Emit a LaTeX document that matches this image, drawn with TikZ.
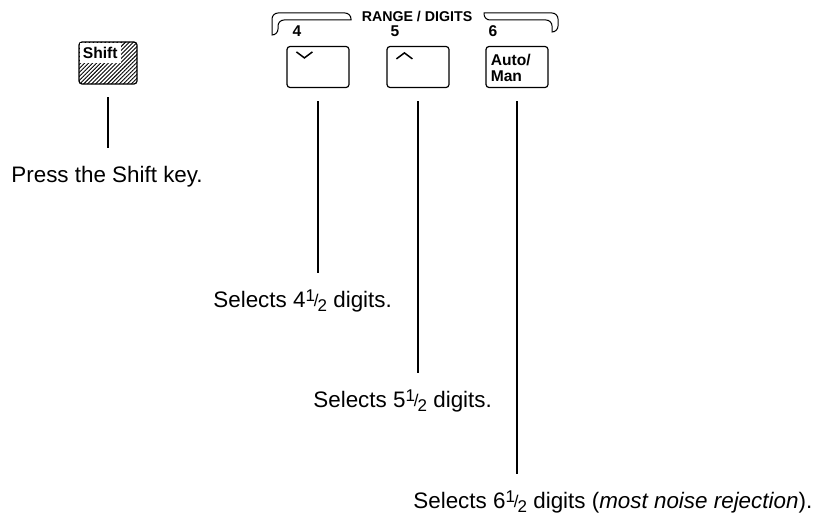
\documentclass[tikz,border=0pt]{standalone}
\usepackage{fontspec}
\setmainfont{Liberation Sans}
\usetikzlibrary{patterns.meta}
\newcommand{\half}{{\fontsize{8.5}{8.5}\selectfont\raisebox{0.6ex}{1}\kern-0.06em\raisebox{0.05ex}{/}\kern-0.06em\raisebox{-0.5ex}{2}}}

\begin{document}
\begin{tikzpicture}[x=0.5pt, y=-0.5pt, every node/.style={inner sep=0pt}]
\tikzset{
  key/.style={draw, rounded corners=1.5pt, line width=0.6pt, minimum width=31pt, minimum height=20.5pt},
  keytext/.style={font=\bfseries\fontsize{7.8}{8}\selectfont, align=left},
  caption/.style={font=\fontsize{11.2}{13}\selectfont, anchor=base west},
  lead/.style={line width=0.7pt, shorten <=6.5pt, shorten >=8.5pt},
  bar/.style={line width=0.5pt}
}
\useasboundingbox (0,0) rectangle (822,524);

\node[key, minimum width=29pt, minimum height=21pt, pattern={Lines[angle=45,distance=1.4pt,line width=0.45pt]}] (shiftkey) at (108,63) {};
\node[keytext, fill=white, anchor=north west, inner xsep=1.5pt, inner ysep=2.2pt] (shiftlbl) at ([shift={(1,1)}]shiftkey.north west) {Shift};
\node[key] (dnkey) at (318,67) {};
\node[key] (upkey) at (418,67) {};
\node[key] (autokey) at (517,67) {};
\node[keytext, anchor=north west] (autolbl) at ([shift={(5,8)}]autokey.north west) {Auto/\\Man};

\draw[line width=0.75pt] ([shift={(10,6)}]dnkey.north west) -- ++(8,6) -- ++(8,-6);
\draw[line width=0.75pt] ([shift={(10,13)}]upkey.north west) -- ++(8,-6) -- ++(8,6);

\node[keytext, anchor=base] (n4) at (297,37) {4};
\node[keytext, anchor=base] (n5) at (395,37) {5};
\node[keytext, anchor=base] (n6) at (493,37) {6};
\node[keytext, font=\bfseries\fontsize{7.1}{8}\selectfont] (range) at (417,16) {RANGE / DIGITS};
\draw[bar] (272,35) [rounded corners=3pt] -- (272,13) -- (351,13) [sharp corners] -- (351,20) [rounded corners=3pt] -- (278,20) -- (278,35) [sharp corners] -- cycle;
\draw[bar] (484,13) [rounded corners=3pt] -- (558,13) -- (558,32) [sharp corners] -- (552,32) [rounded corners=3pt] -- (552,20) -- (484,20) [sharp corners] -- cycle;

\node[caption] (press) at (11,182) {Press the Shift key.};
\node[caption] (sel4) at (213,307) {Selects 4\half{} digits.};
\node[caption] (sel5) at (313,407) {Selects 5\half{} digits.};
\node[caption] (sel6) at (413,508) {Selects 6\half{} digits (\textit{most noise rejection}).};

\draw[lead] (shiftkey.south) -- (shiftkey.south |- press.north);
\draw[lead] (dnkey.south) -- (dnkey.south |- sel4.north);
\draw[lead] (upkey.south) -- (upkey.south |- sel5.north);
\draw[lead] (autokey.south) -- (autokey.south |- sel6.north);
\end{tikzpicture}
\end{document}
